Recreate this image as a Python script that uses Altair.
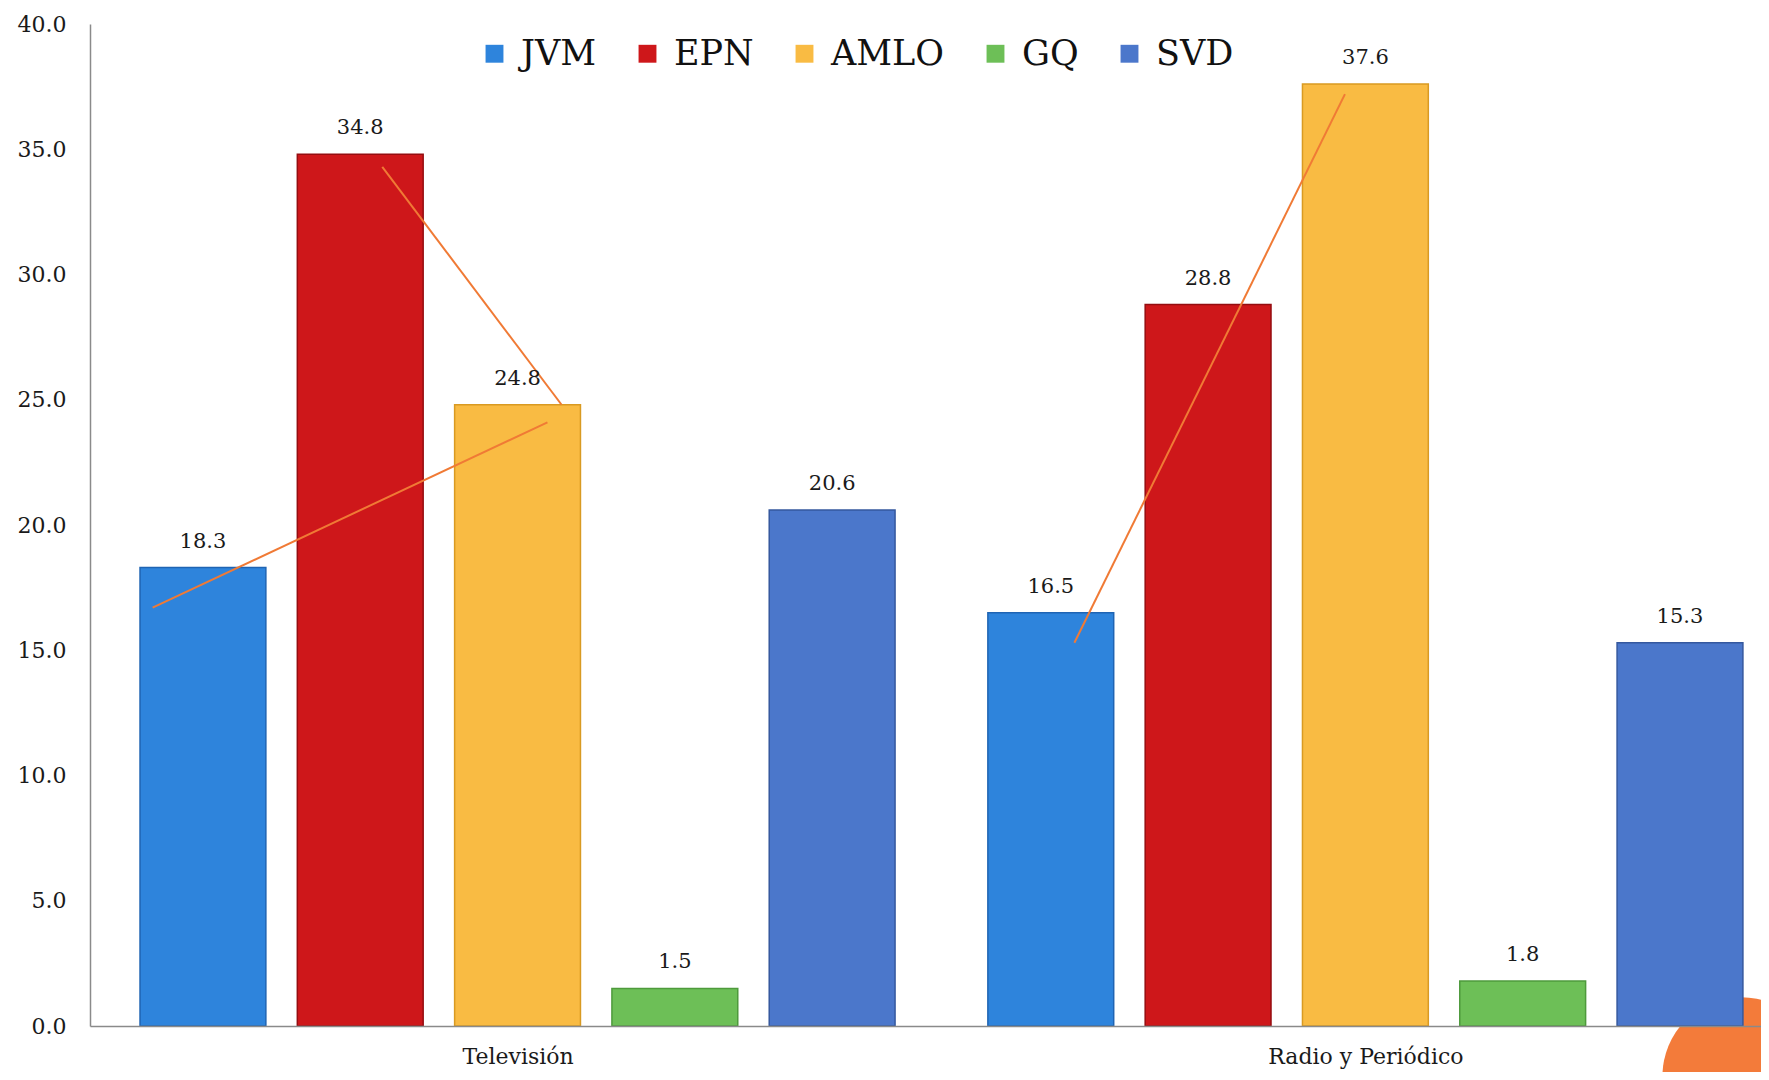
import altair as alt
import pandas as pd

# ---------------- data ----------------
categories = ["Televisión", "Radio y Periódico"]
parties = ["JVM", "EPN", "AMLO", "GQ", "SVD"]
tv_values = [18.3, 34.8, 24.8, 1.5, 20.6]
radio_values = [16.5, 28.8, 37.6, 1.8, 15.3]
y_ticks = [0, 5, 10, 15, 20, 25, 30, 35, 40]

party_colors = ["#2E84DC", "#CE171A", "#F9BB43", "#6DBF57", "#4B77CB"]
party_edges = ["#1F64B3", "#950D10", "#D99A22", "#4E9A3C", "#35589E"]

# hand-drawn orange strokes (in slot / value units)
ann_id = [1, 1, 2, 2, 3, 3]
ann_slot = [-0.32, 2.19, 1.14, 2.28, 5.54, 7.26]
ann_val = [16.7, 24.1, 34.3, 24.8, 15.3, 37.2]

# decorative orange disc at the bottom-right corner
disc_slot = [9.78]
disc_val = [-2.0]

# ---------------- build table ----------------
GROUP = 5.39
BAR_HALF = 0.4
rows = []
for g, (cat, vals) in enumerate(zip(categories, [tv_values, radio_values])):
    for p, (party, v) in enumerate(zip(parties, vals)):
        c = g * GROUP + p
        rows.append(dict(categoria=cat, partido=party, valor=v,
                         x0=c - BAR_HALF, x1=c + BAR_HALF, xc=c))
df = pd.DataFrame(rows)
ann_df = pd.DataFrame({"id": ann_id, "slot": ann_slot, "val": ann_val})
disc_df = pd.DataFrame({"slot": disc_slot, "val": disc_val})

FONT = "DejaVu Serif"
xs = alt.Scale(domain=[-0.718, 9.905], nice=False, zero=False)
ys = alt.Scale(domain=[0, 40], nice=False)

label_expr = "datum.value < %f ? '%s' : '%s'" % (GROUP, categories[0], categories[1])
xaxis = alt.Axis(values=[2, 2 + GROUP], labelExpr=label_expr, title=None, ticks=False,
                 grid=False, labelFont=FONT, labelFontSize=22, labelColor="#1a1a1a",
                 labelPadding=20, labelLimit=0, domainColor="#8a8a8a", domainWidth=1.5,
                 zindex=1)
yaxis = alt.Axis(values=y_ticks, format=".1f", title=None, ticks=False, grid=False,
                 labelFont=FONT, labelFontSize=22, labelColor="#1a1a1a", labelPadding=24,
                 domainColor="#8a8a8a", domainWidth=1.5, zindex=1)


def X(field):
    return alt.X(field, type="quantitative", scale=xs, axis=xaxis)


def Y(field):
    return alt.Y(field, type="quantitative", scale=ys, axis=yaxis)


disc = alt.Chart(disc_df).mark_point(filled=True, shape="circle", size=24900,
                                     color="#F37B3A", opacity=1).encode(
    x=X("slot"), y=Y("val"))

bars = alt.Chart(df).mark_bar(strokeWidth=1.5).encode(
    x=X("x0"),
    x2="x1",
    y=Y("valor"),
    y2=alt.datum(0),
    color=alt.Color("partido:N", scale=alt.Scale(domain=parties, range=party_colors),
                    legend=alt.Legend(title=None, orient="none", legendX=387, legendY=12,
                                      direction="horizontal", symbolType="square",
                                      symbolSize=320, symbolStrokeWidth=0,
                                      labelFont=FONT, labelFontSize=35, labelColor="#111",
                                      columnPadding=33, labelOffset=9)),
    stroke=alt.Stroke("partido:N", scale=alt.Scale(domain=parties, range=party_edges),
                      legend=None),
)

lines = alt.Chart(ann_df).mark_line(color="#F07A35", strokeWidth=2).encode(
    x=X("slot"), y=Y("val"), detail="id:N")

labels = alt.Chart(df).mark_text(dy=-26, baseline="middle", fontSize=21, font=FONT,
                                 color="#1a1a1a").encode(
    x=X("xc"), y=Y("valor"), text=alt.Text("valor:Q", format=".1f"))

chart = alt.layer(disc, bars, lines, labels).properties(
    width=1671, height=1002,
    autosize=alt.AutoSizeParams(type="none"),
    padding={"left": 82, "top": 16, "right": 0, "bottom": 46},
    background="white",
).configure_view(stroke=None)

chart.save("out.html", embed_options={"renderer": "svg", "actions": False})
